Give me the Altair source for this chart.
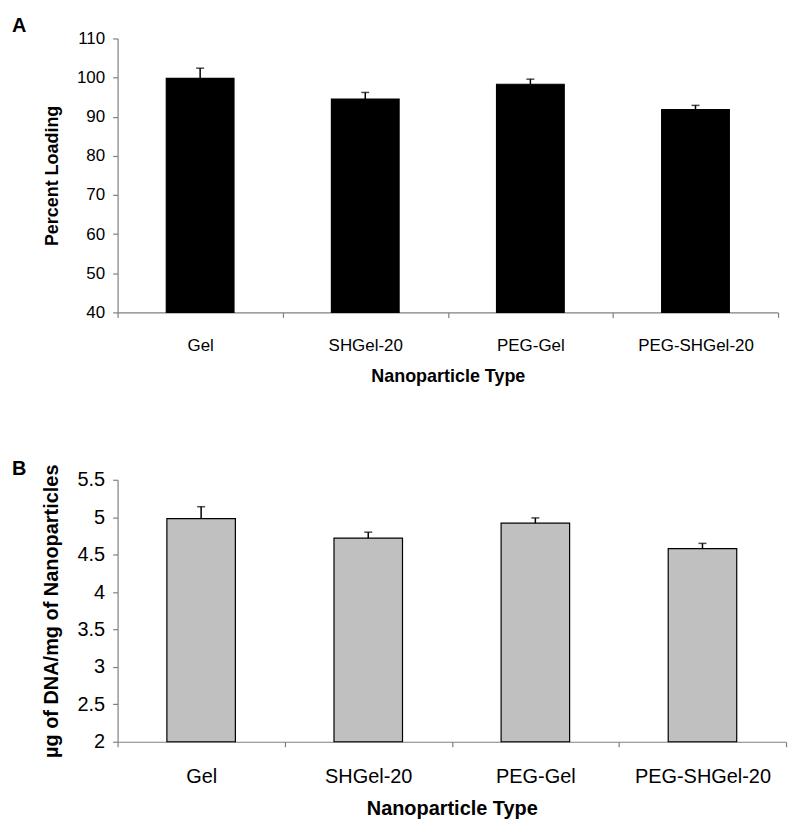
import altair as alt
import pandas as pd

categories = ["Gel", "SHGel-20", "PEG-Gel", "PEG-SHGel-20"]
loading = [99.8, 94.5, 98.3, 91.8]
loading_err = [2.6, 1.7, 1.3, 1.1]
dna = [4.98, 4.72, 4.92, 4.58]
dna_err = [0.16, 0.08, 0.07, 0.07]

ticks_a = [40, 50, 60, 70, 80, 90, 100, 110]
ticks_b = [2, 2.5, 3, 3.5, 4, 4.5, 5, 5.5]

FONT = "Liberation Sans"
AXC = "#808080"


def panel(vals, errs, letter, ytitle, domain, ticks, fmt, fill, width, height,
          tick_fs, title_fs, xlab_pad, xtitle_pad, title_offset):
    df = pd.DataFrame({
        "cat": categories,
        "val": vals,
        "upper": [v + e for v, e in zip(vals, errs)],
    })
    x = alt.X(
        "cat:N", sort=categories,
        scale=alt.Scale(paddingInner=0, paddingOuter=0),
        axis=alt.Axis(
            title="Nanoparticle Type", labelAngle=0, tickBand="extent",
            domainColor=AXC, tickColor=AXC, tickSize=5, domainWidth=1.2, tickWidth=1.2,
            labelFont=FONT, labelFontSize=tick_fs, labelColor="black",
            labelPadding=xlab_pad, titleFont=FONT, titleFontSize=title_fs,
            titleFontWeight="bold", titleColor="black", titlePadding=xtitle_pad,
            labelOverlap=False,
        ),
    )
    yscale = alt.Scale(domain=domain, nice=False, zero=False)
    yaxis = alt.Axis(
        title=ytitle, values=ticks, format=fmt, grid=False,
        domainColor=AXC, tickColor=AXC, tickSize=5, domainWidth=1.2, tickWidth=1.2,
        labelFont=FONT, labelFontSize=tick_fs, labelColor="black", labelPadding=8,
        labelOverlap=False,
        titleFont=FONT, titleFontSize=title_fs, titleFontWeight="bold",
        titleColor="black", titleX=-56, titleY=height / 2,
    )
    base = alt.Chart(df)
    bars = base.mark_bar(
        width={"band": 0.41}, color=fill, stroke="black", strokeWidth=1.2
    ).encode(x=x, y=alt.Y("val:Q", scale=yscale, axis=yaxis), y2=alt.datum(domain[0]))
    rule = base.mark_rule(color="black", strokeWidth=1.5).encode(
        x=x, y=alt.Y("val:Q", scale=yscale, axis=yaxis), y2="upper:Q")
    cap = base.mark_tick(color="black", size=8, thickness=1.5).encode(
        x=x, y=alt.Y("upper:Q", scale=yscale, axis=yaxis))
    return alt.layer(bars, rule, cap).properties(
        width=width, height=height,
        title=alt.TitleParams(
            letter, anchor="start", frame="group", dx=-106, fontSize=20, font=FONT,
            fontWeight="bold", color="black", offset=title_offset,
        ),
    )


a = panel(loading, loading_err, "A", "Percent Loading", [40, 110], ticks_a, "d",
          "black", 663, 275, 17, 18, 20, 14, -7)
b = panel(dna, dna_err, "B", "µg of DNA/mg of Nanoparticles", [2, 5.5], ticks_b,
          ".1~f", "#c0c0c0", 671, 263, 20, 20, 20, 12, -15)

chart = alt.vconcat(a, b, spacing=168, bounds="flush").properties(
    padding={"left": 4, "top": 7, "right": 5, "bottom": 5}
).configure_view(stroke=None)

chart.save("out.html", embed_options={"renderer": "svg", "actions": False})
